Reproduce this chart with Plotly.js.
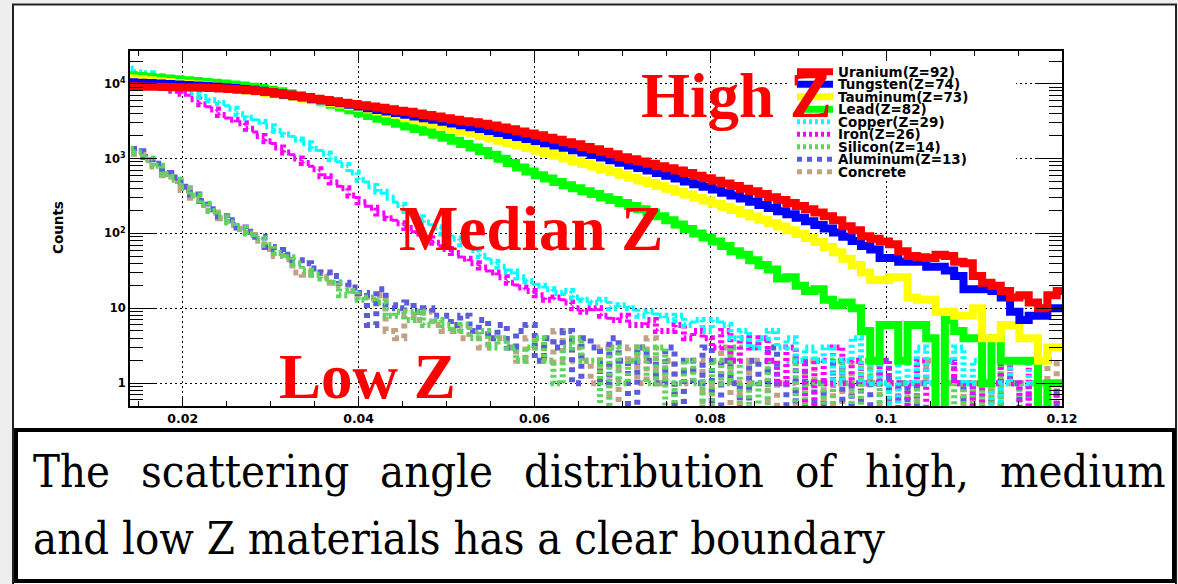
<!DOCTYPE html>
<html>
<head>
<meta charset="utf-8">
<script src="https://cdn.plot.ly/plotly-3.0.1.min.js"></script>
<style>
html,body{margin:0;padding:0;background:#ffffff;}
#chart{width:1178px;height:584px;}
</style>
</head>
<body>
<div id="chart"></div>
<script>
// ---------------- DATA ----------------
const seriesNames = ['Uranium(Z=92)','Tungsten(Z=74)','Tauminum(Z=73)','Lead(Z=82)','Copper(Z=29)','Iron(Z=26)','Silicon(Z=14)','Aluminum(Z=13)','Concrete'];

// histogram binning (scattering angle)
const binStart = 0.013395;
const binWidth = 0.00106;

// counts per bin (101 bins)
const uranium = [9200,9150,9100,9050,9000,8950,8900,8850,8800,8700,
  8600,8450,8300,8150,7950,7700,7450,7150,6900,6600,
  6300,6050,5800,5550,5350,5150,4950,4750,4550,4350,
  4200,4000,3800,3650,3450,3300,3150,3050,2900,2750,
  2600,2450,2300,2150,2050,1900,1780,1650,1550,1430,
  1330,1230,1140,1040,980,910,850,790,740,690,
  640,590,545,505,465,430,395,365,335,305,
  280,255,232,210,190,170,150,125,110,92,
  85,78,72,58,50,48,47,52,50,42,
  40,27,22,20,17,14,15,12,10,15,17];
const tungsten = [10400,10300,10200,10050,9900,9750,9600,9450,9300,9150,
  8950,8750,8500,8250,8000,7700,7400,7100,6800,6500,
  6200,5950,5700,5450,5200,4950,4700,4450,4250,4050,
  3850,3650,3450,3280,3100,2930,2770,2620,2470,2330,
  2190,2060,1940,1820,1710,1600,1490,1390,1290,1200,
  1110,1030,950,880,810,750,690,640,590,540,
  495,455,420,385,350,320,292,265,240,218,
  198,180,162,146,130,116,103,90,79,68,
  61,47,47,42,42,42,36,36,32,27,
  18,18,18,17,14,9,7,8,8,10,10];
const tauminum = [11700,11400,11100,10800,10500,10200,9950,9700,9450,9200,
  8950,8700,8400,8100,7800,7500,7200,6900,6600,6300,
  6000,5750,5500,5250,5000,4750,4500,4250,4000,3800,
  3450,3250,3050,2850,2650,2470,2300,2140,1990,1850,
  1720,1600,1490,1380,1280,1180,1090,1000,920,850,
  780,720,660,605,555,510,470,430,395,360,
  330,300,275,250,228,206,186,168,152,137,
  124,110,98,87,77,66,56,46,38,30,
  24,24,26,26,14,13,13,9,9,8,
  8,10,4,4,6,6,4,4,2,3,3];
const lead = [12900,12600,12300,12000,11700,11400,11100,10800,10500,10250,
  10000,9700,9400,9050,8700,8300,7900,7450,7000,6550,
  6100,5650,5200,4800,4400,4000,3700,3400,3150,2900,
  2680,2470,2270,2080,1900,1720,1560,1400,1260,1120,
  990,870,760,670,600,540,485,440,400,365,
  335,305,280,255,232,210,190,170,150,132,
  115,100,88,78,68,58,52,44,38,33,
  25,26,20,17,18,13,11,12,10,5,
  2,6,6,2,6,6,4,0,7,5,
  4,4,1,4,2,2,2,2,0,1,1];
const copper = [15800,14200,13700,12500,11000,9500,8500,7500,6600,6000,
  5500,4600,3900,3500,3100,2700,2350,2100,1800,1600,
  1350,1170,980,820,650,520,430,360,300,240,
  200,165,140,120,100,85,72,60,50,42,
  36,31,26,23,20,18,16,17,14,13,
  12,13,10,11,10,8,9,8,7,8,
  6,7,5,7,6,4,5,3,4,5,
  3,4,2,3,2,3,1,2,4,1,
  2,1,0,2,1,3,1,0,2,3,
  1,2,1,0,1,2,2,1,0,1,1];
const iron = [13000,12500,11500,10500,9200,8000,7300,6200,5300,4500,
  3800,3300,2950,2500,2000,1700,1400,1200,1000,870,
  720,580,480,400,320,260,220,185,160,137,
  118,100,86,75,62,55,46,40,35,30,
  26,22,19,17,15,13,14,12,10,9,
  10,8,7,8,6,6,7,5,5,6,
  4,5,4,3,5,2,4,3,4,2,
  1,3,2,0,2,1,3,1,2,1,
  1,2,1,0,1,2,0,1,2,1,
  1,0,2,1,2,1,0,2,1,1,0];
const silicon = [1350,1200,1000,800,620,520,400,320,250,200,
  165,140,118,100,85,70,55,48,40,32,
  28,25,22,15,17,13,14,12,8,9,
  7,9,6,7,6,5,6,4,5,3,
  4,3,2,3,4,2,1,3,4,2,
  2,0,3,1,2,3,1,3,0,1,
  2,1,0,2,1,3,0,1,0,2,
  1,2,0,1,1,0,2,1,0,2,
  1,0,1,1,0,2,1,0,1,0,
  1,0,1,0,2,1,0,1,1,0,1];
const aluminum = [1500,1250,1050,850,640,560,420,330,270,210,
  170,150,120,105,90,66,60,52,44,40,
  34,30,27,22,19,16,6,18,11,10,
  12,9,10,8,8,6,8,5,7,4,
  6,3,5,6,2,4,3,5,1,4,
  3,1,4,2,0,3,2,1,3,0,
  2,1,3,0,2,1,0,2,1,3,
  1,0,2,1,0,1,2,0,1,0,
  1,2,0,1,0,1,1,0,2,1,
  0,1,1,0,2,1,0,1,1,0,1];
const concrete = [1250,1150,950,780,600,500,380,300,240,190,
  160,130,115,95,80,62,50,45,30,28,
  30,26,22,20,17,14,13,15,5,4,
  8,7,9,6,5,6,4,5,3,4,
  4,3,2,4,3,2,5,2,3,2,
  1,3,0,2,3,1,4,1,2,0,
  1,2,0,1,3,0,1,2,2,0,
  1,1,0,2,1,0,1,0,2,1,
  2,0,1,1,0,1,2,0,1,1,
  0,1,1,0,2,1,1,0,1,2,1];

const xTickVals = [0.02,0.04,0.06,0.08,0.1,0.12];
const xTickText = ['0.02','0.04','0.06','0.08','0.1','0.12'];
const yTickVals = [1,10,100,1000,10000];
const yTickText = ['1','10','10<sup>2</sup>','10<sup>3</sup>','10<sup>4</sup>'];
const yTitle = 'Counts';
const groupLabels = ['High Z','Median Z','Low Z'];
const captionLine1 = ['The','scattering','angle','distribution','of','high,','medium'];
const captionLine2 = 'and low Z materials has a clear boundary';

// ---------------- STYLE ----------------
const seriesData = [uranium,tungsten,tauminum,lead,copper,iron,silicon,aluminum,concrete];
const seriesColors = ['#ff0000','#0000ff','#ffff00','#00ff00','#00ffff','#ff00ff','#5ed35e','#5b5bdc','#c2a284'];
const seriesWidth = [8,8,8,8,6,6,6,6,6];
const seriesDash = ['solid','solid','solid','solid','3px,3px','3px,3px','3px,3px','5px,5px','5px,5px'];

const W = 1178, H = 584;
const L = 130, R = 1062, T = 51, B = 406;
const px = x => (x - L) / (R - L);
const py = y => (B - y) / (B - T);

// ---------------- TRACES ----------------
function histTrace(k) {
  const vals = seriesData[k];
  const xs = [], ys = [];
  for (let i = 0; i <= vals.length; i++) {
    xs.push(binStart + i * binWidth);
    const v = vals[Math.min(i, vals.length - 1)];
    ys.push(v > 0 ? v : 0.01);   // empty bins drop below the frame
  }
  return {
    type: 'scatter', mode: 'lines', x: xs, y: ys, name: seriesNames[k],
    line: {shape: 'hv', color: seriesColors[k], width: seriesWidth[k], dash: seriesDash[k]},
    hoverinfo: 'skip', showlegend: false
  };
}
const traces = [];
for (let k = seriesData.length - 1; k >= 0; k--) traces.push(histTrace(k));

// ---------------- SHAPES ----------------
const shapes = [];
shapes.push({type:'rect', xref:'paper', yref:'paper', x0:px(0), x1:px(W), y0:py(0), y1:py(H),
  fillcolor:'#eeeeee', line:{width:0}, layer:'below'});
shapes.push({type:'rect', xref:'paper', yref:'paper', x0:px(13), x1:px(1176), y0:py(4.5), y1:py(H+5),
  fillcolor:'#ffffff', line:{color:'#222222', width:2}, layer:'below'});
shapes.push({type:'rect', xref:'paper', yref:'paper', x0:px(16), x1:px(1174), y0:py(430), y1:py(581),
  fillcolor:'#ffffff', line:{color:'#000000', width:4}, layer:'below'});
shapes.push({type:'rect', xref:'paper', yref:'paper', x0:px(788), x1:px(1016), y0:py(61), y1:py(181),
  fillcolor:'#ffffff', line:{width:0}, layer:'above'});
const legendRowY = [71.7,84.2,96.7,109.2,121.7,134.2,146.7,159.2,171.7];
const annotations = [];
for (let k = 0; k < seriesNames.length; k++) {
  shapes.push({type:'line', xref:'paper', yref:'paper', x0:px(797), x1:px(833), y0:py(legendRowY[k]), y1:py(legendRowY[k]),
    line:{color:seriesColors[k], width:seriesWidth[k] - 1, dash:seriesDash[k]}, layer:'above'});
  annotations.push({xref:'paper', yref:'paper', x:px(838), y:py(legendRowY[k]), xanchor:'left', yanchor:'middle',
    text:seriesNames[k], showarrow:false, borderpad:0, borderwidth:0,
    font:{family:'DejaVu Sans', size:13.5, weight:'bold', color:'#000'}});
}

const bigFont = {family:'Liberation Serif', size:63, weight:'bold', color:'#ff0000'};
const groupPos = [[641,96],[399,229],[279,377]];
groupLabels.forEach((t, i) => annotations.push({xref:'paper', yref:'paper', x:px(groupPos[i][0]), y:py(groupPos[i][1]),
  xanchor:'left', yanchor:'middle', text:t, showarrow:false, borderpad:0, borderwidth:0, font:bigFont}));

annotations.push({xref:'paper', yref:'paper', x:px(58), y:py(228), xanchor:'center', yanchor:'middle', textangle:-90,
  text:yTitle, showarrow:false, font:{family:'DejaVu Sans', size:13.5, weight:'bold', color:'#000'}});

// caption: first line justified between the box margins
const capSize = 45;
const capFamily = 'DejaVu Serif Condensed, DejaVu Serif';
const capFont = {family:capFamily, size:capSize, color:'#000'};
const ctx = document.createElement('canvas').getContext('2d');
ctx.font = capSize + 'px "DejaVu Serif Condensed", "DejaVu Serif"';
const wordW = captionLine1.map(w => ctx.measureText(w).width);
const lineLeft = 33, lineRight = 1166;
const totalW = wordW.reduce((a, b) => a + b, 0);
const gap = (lineRight - lineLeft - totalW) / (captionLine1.length - 1);
let cursor = lineLeft;
captionLine1.forEach((w, i) => {
  annotations.push({xref:'paper', yref:'paper', x:px(cursor), y:py(471), xanchor:'left', yanchor:'middle',
    text:w, showarrow:false, borderpad:0, borderwidth:0, font:capFont});
  cursor += wordW[i] + gap;
});
annotations.push({xref:'paper', yref:'paper', x:px(lineLeft), y:py(538), xanchor:'left', yanchor:'middle',
  text:captionLine2, showarrow:false, borderpad:0, borderwidth:0, font:capFont});

// ---------------- LAYOUT ----------------
const tickFont = {family:'DejaVu Sans', size:12.5, weight:'bold', color:'#000'};
const layout = {
  width: W, height: H,
  margin: {l: L, r: W - R, t: T, b: H - B, pad: 0},
  paper_bgcolor: '#ffffff', plot_bgcolor: '#ffffff',
  showlegend: false,
  xaxis: {
    type: 'linear', range: [0.014, 0.12], tickmode: 'array', tickvals: xTickVals, ticktext: xTickText,
    ticks: 'inside', ticklen: 10, tickwidth: 1, tickcolor: '#000',
    showline: true, linecolor: '#000', linewidth: 2, mirror: 'allticks',
    showgrid: true, gridcolor: '#000', gridwidth: 1, griddash: '2px,3px', zeroline: false,
    tickfont: tickFont,
    minor: {ticks: 'inside', ticklen: 5, tickwidth: 1, tickcolor: '#000', dtick: 0.005, tick0: 0, showgrid: false}
  },
  yaxis: {
    type: 'log', range: [-0.303, 4.435], tickmode: 'array', tickvals: yTickVals, ticktext: yTickText,
    ticks: 'inside', ticklen: 26, tickwidth: 1, tickcolor: '#000',
    showline: true, linecolor: '#000', linewidth: 2, mirror: 'allticks',
    showgrid: true, gridcolor: '#000', gridwidth: 1, griddash: '2px,3px', zeroline: false,
    tickfont: {family:'DejaVu Sans', size:11.5, weight:'bold', color:'#000'},
    minor: {ticks: 'inside', ticklen: 13, tickwidth: 1, tickcolor: '#000', dtick: 'D1', showgrid: false}
  },
  shapes: shapes,
  annotations: annotations
};

Plotly.newPlot('chart', traces, layout, {displayModeBar: false, staticPlot: true});
</script>
</body>
</html>
